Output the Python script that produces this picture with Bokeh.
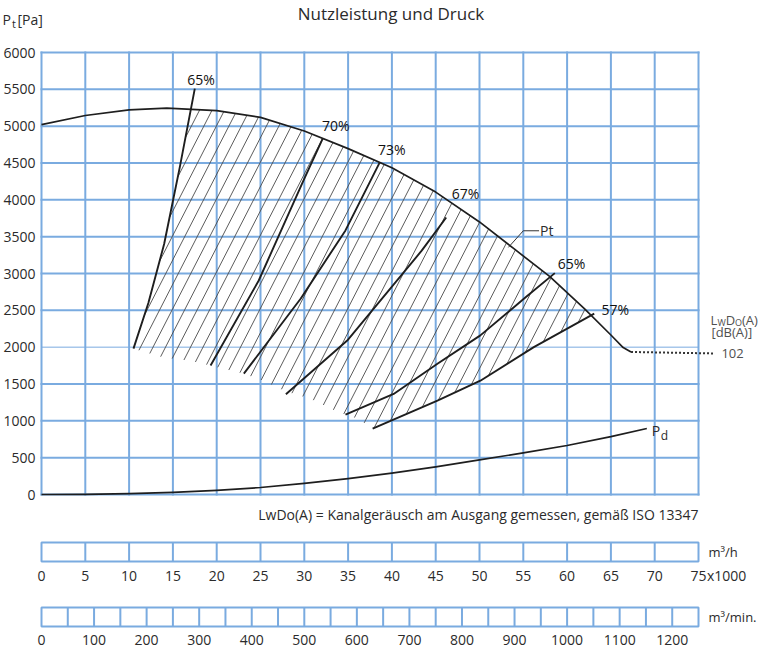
import numpy as np
from bokeh.plotting import figure
from bokeh.layouts import column
from bokeh.models import Range1d
from bokeh.core.properties import value
from bokeh.embed import file_html
from bokeh.resources import INLINE

# ---------------- data ----------------
chart_title = "Nutzleistung und Druck"
note_text = "LwDo(A) = Kanalgeräusch am Ausgang gemessen, gemäß ISO 13347"

pressure_ticks = [0, 500, 1000, 1500, 2000, 2500, 3000, 3500, 4000, 4500, 5000, 5500, 6000]
flow_grid = [0, 5, 10, 15, 20, 25, 30, 35, 40, 45, 50, 55, 60, 65, 70, 75]          # x1000 m3/h
flow_h_ticks = [0, 5, 10, 15, 20, 25, 30, 35, 40, 45, 50, 55, 60, 65, 70, 75]
flow_min_ticks = [0, 100, 200, 300, 400, 500, 600, 700, 800, 900, 1000, 1100, 1200]
flow_min_div = [0, 50, 100, 150, 200, 250, 300, 350, 400, 450, 500, 550, 600, 650,
                700, 750, 800, 850, 900, 950, 1000, 1050, 1100, 1150, 1200, 1250]

# total pressure curve Pt
pt_x = [0, 5, 10, 14.3, 20, 25, 30, 35, 40, 45, 50, 54, 58, 62, 65, 66.4, 67.3]
pt_y = [5020, 5145, 5220, 5244, 5212, 5120, 4935, 4695, 4435, 4105, 3700, 3330, 2960, 2520, 2165, 1995, 1935]
# dotted continuation to the noise value
pt_dot_x = [67.3, 76.7]
pt_dot_y = [1935, 1915]
noise_value = "102"

# dynamic pressure curve Pd
pd_x = [0, 5, 10, 15, 20, 25, 30, 35, 40, 45, 50, 55, 60, 65, 69.1]
pd_y = [0, 3, 12, 28, 55, 95, 150, 215, 290, 375, 470, 565, 665, 785, 896]

# efficiency lines
eff_labels = ["65%", "70%", "73%", "67%", "65%", "57%"]
eff_x = [[10.5, 12.2, 14.0, 15.8, 17.5],
         [19.3, 24.8, 29.9, 32.1],
         [23.1, 29.6, 34.7, 38.6],
         [27.9, 34.9, 43.4, 46.2],
         [34.7, 40.2, 45.2, 50.1, 55.3, 58.6],
         [37.8, 45.2, 50.1, 56.2, 63.1]]
eff_y = [[1980, 2600, 3400, 4450, 5510],
         [1750, 2905, 4260, 4830],
         [1640, 2660, 3585, 4505],
         [1360, 2090, 3310, 3760],
         [1085, 1365, 1775, 2160, 2680, 3005],
         [895, 1275, 1545, 2000, 2455]]
eff_label_x = [18.2, 33.6, 40.0, 48.4, 60.5, 65.5]
eff_label_y = [5640, 5010, 4685, 4085, 3135, 2505]

# lower boundary of the hatched working range
lower_x = [10.5, 13.9, 17.0, 19.3, 23.1, 25.3, 27.9, 30.7, 33.3, 34.7, 36.1, 37.8]
lower_y = [1980, 1860, 1815, 1750, 1640, 1545, 1400, 1300, 1150, 1085, 1030, 895]

# leader line of the "Pt" label
pt_leader_x = [53.3, 55.0, 56.8]
pt_leader_y = [3355, 3580, 3580]

# ---------------- styling / layout ----------------
FONT = value("Open Sans")
TXT = "#2b2b2b"
INK = "#1e1e1e"
BLUE = "#7AABE0"
W = 766
PX = 657 / 75.0          # px per 1000 m3/h
PY = 442 / 6000.0        # px per Pa
PXM = 657 / 1250.0       # px per m3/min
LEFT = 41                # canvas-left to x=0 in px
H1, TOP, ZERO = 528, 52, 494
H2, H3, BAR = 64, 57, 19


def crossing(ax, ay, bx, by):
    lo, hi = max(min(ax), min(bx)), min(max(ax), max(bx))
    xs = np.linspace(lo, hi, 2000)
    d = np.interp(xs, ax, ay) - np.interp(xs, bx, by)
    i = np.where(np.sign(d[:-1]) != np.sign(d[1:]))[0][0]
    xc = xs[i]
    return xc, float(np.interp(xc, bx, by))


# hatched region polygon built from the curves
x1c, y1c = crossing(eff_x[0], eff_y[0], pt_x, pt_y)
x2c, y2c = crossing(eff_x[5], eff_y[5], pt_x, pt_y)
poly_x, poly_y = [], []
for xx, yy in zip(eff_x[0], eff_y[0]):
    if xx < x1c:
        poly_x.append(xx); poly_y.append(yy)
poly_x.append(x1c); poly_y.append(y1c)
for xx, yy in zip(pt_x, pt_y):
    if x1c < xx < x2c:
        poly_x.append(xx); poly_y.append(yy)
poly_x.append(x2c); poly_y.append(y2c)
for xx, yy in zip(eff_x[5][::-1], eff_y[5][::-1]):
    if xx < x2c:
        poly_x.append(xx); poly_y.append(yy)
for xx, yy in zip(lower_x[-2:0:-1], lower_y[-2:0:-1]):
    poly_x.append(xx); poly_y.append(yy)

# hatch lines (pixel slope ~63 deg), clipped to the polygon
pu = np.array(poly_x) * PX
pv = np.array(poly_y) * PY
K = 1.95
DC = K * 12.5
cv = pv - K * pu
hx0, hy0, hx1, hy1 = [], [], [], []
n = len(pu)
for c in np.arange(np.floor(cv.min() / DC) * DC + 3.0, cv.max(), DC):
    us = []
    for i in range(n):
        j = (i + 1) % n
        f1, f2 = cv[i] - c, cv[j] - c
        if (f1 > 0) != (f2 > 0):
            t = f1 / (f1 - f2)
            us.append(pu[i] + t * (pu[j] - pu[i]))
    us.sort()
    for a, b in zip(us[0::2], us[1::2]):
        hx0.append(a / PX); hy0.append((K * a + c) / PY)
        hx1.append(b / PX); hy1.append((K * b + c) / PY)


def base_fig(h, xr, yr):
    f = figure(width=W, height=h, x_range=xr, y_range=yr,
               x_axis_location=None, y_axis_location=None,
               toolbar_location=None, output_backend="svg",
               min_border=0, outline_line_color=None)
    f.grid.visible = False
    f.background_fill_color = "white"
    f.border_fill_color = "white"
    return f


# ---------------- main chart ----------------
p = base_fig(H1, Range1d(-LEFT / PX, (W - LEFT) / PX),
             Range1d(-(H1 - ZERO) / PY, 6000 + TOP / PY))

hwidth = [1.0 if v == 2000 else 2.0 for v in pressure_ticks]
p.segment(x0=flow_grid, y0=pressure_ticks[0], x1=flow_grid, y1=pressure_ticks[-1],
          line_color=BLUE, line_width=2, line_cap="square")
p.segment(x0=flow_grid[0], y0=pressure_ticks, x1=flow_grid[-1], y1=pressure_ticks,
          line_color=BLUE, line_width=hwidth, line_cap="square")

p.segment(x0=hx0, y0=hy0, x1=hx1, y1=hy1, line_color="#4a4a4a", line_width=0.9)

p.line(pt_x, pt_y, line_color=INK, line_width=1.7, line_join="round")
p.line(pt_dot_x, pt_dot_y, line_color="#333333", line_width=2, line_dash="2 2")
p.line(pd_x, pd_y, line_color=INK, line_width=1.7, line_join="round")
p.multi_line(eff_x, eff_y, line_color=INK, line_width=1.9, line_join="round")
p.line(pt_leader_x, pt_leader_y, line_color="#333333", line_width=1)

txt = dict(text_font=FONT, text_color=TXT)
p.text(x=0, y=pressure_ticks, text=[str(v) for v in pressure_ticks],
       text_font_size="14px", text_align="right", text_baseline="middle",
       x_offset=-6, **txt)
p.text(x=eff_label_x, y=eff_label_y, text=eff_labels, text_font_size="14px",
       text_align="center", text_baseline="middle",
       text_font=FONT, text_color="#111111")
p.text(x=[(flow_grid[0] + flow_grid[-1]) / 2], y=[pressure_ticks[-1]], text=[chart_title],
       text_font_size="17px", text_align="center", text_baseline="middle",
       x_offset=21, y_offset=-39, **txt)
# Pt[Pa] axis title
p.text(x=[0], y=[pressure_ticks[-1]], text=["P"], text_font_size="14px",
       text_align="left", text_baseline="middle", x_offset=-39, y_offset=-33.5, **txt)
p.text(x=[0], y=[pressure_ticks[-1]], text=["t"], text_font_size="11px",
       text_align="left", text_baseline="middle", x_offset=-29.5, y_offset=-29.5, **txt)
p.text(x=[0], y=[pressure_ticks[-1]], text=["[Pa]"], text_font_size="14px",
       text_align="left", text_baseline="middle", x_offset=-24, y_offset=-33.5, **txt)
# curve labels
p.text(x=[pt_leader_x[-1]], y=[pt_leader_y[-1]], text=["Pt"], text_font_size="14px",
       text_align="left", text_baseline="middle", x_offset=1, **txt)
p.text(x=[pd_x[-1]], y=[pd_y[-1]], text=["P"], text_font_size="14px",
       text_align="left", text_baseline="middle", x_offset=5, y_offset=2, **txt)
p.text(x=[pd_x[-1]], y=[pd_y[-1]], text=["d"], text_font_size="12px",
       text_align="left", text_baseline="middle", x_offset=14, y_offset=7, **txt)
# note
p.text(x=[flow_grid[-1]], y=[pressure_ticks[0]], text=[note_text], text_font_size="14px",
       text_align="right", text_baseline="middle", y_offset=20, **txt)
# noise level labels
GR = "#505050"
ex, ey = [pt_dot_x[-1]], [pt_dot_y[-1]]
p.text(x=ex, y=ey, text=[noise_value], text_font_size="13px", text_align="left",
       text_baseline="middle", x_offset=8, text_font=FONT, text_color=GR)
p.text(x=ex, y=ey, text=["[dB(A)]"], text_font_size="13px", text_align="left",
       text_baseline="middle", x_offset=-2, y_offset=-21, text_font=FONT, text_color=GR)
for piece, size, dx, dy in [("L", "13px", -3, -33), ("W", "9px", 4.0, -31), ("D", "13px", 12.3, -33),
                            ("O", "9px", 21.7, -31), ("(A)", "13px", 28.6, -33)]:
    p.text(x=ex, y=ey, text=[piece], text_font_size=size, text_align="left",
           text_baseline="alphabetic", x_offset=dx, y_offset=dy,
           text_font=FONT, text_color=GR)

# ---------------- m3/h scale ----------------
p2 = base_fig(H2, Range1d(-LEFT / PX, (W - LEFT) / PX),
              Range1d(-(H2 - 33) / BAR, 33 / BAR))
p2.quad(left=[flow_h_ticks[0]], right=[flow_h_ticks[-1]], bottom=[0], top=[1],
        fill_color=None, line_color=BLUE, line_width=2)
p2.segment(x0=flow_h_ticks[1:-1], y0=0, x1=flow_h_ticks[1:-1], y1=1,
           line_color=BLUE, line_width=2)
p2.text(x=flow_h_ticks, y=0, text=[str(v) for v in flow_h_ticks], text_font_size="14px",
        text_align="center", text_baseline="middle", y_offset=14, **txt)
p2.text(x=[flow_h_ticks[-1]], y=[0], text=["x1000"], text_font_size="14px",
        text_align="left", text_baseline="middle", x_offset=8.5, y_offset=14, **txt)
p2.text(x=[flow_h_ticks[-1]], y=[0.5], text=["m³/h"], text_font_size="13px",
        text_align="left", text_baseline="middle", x_offset=10, **txt)

# ---------------- m3/min scale ----------------
p3 = base_fig(H3, Range1d(-LEFT / PXM, (W - LEFT) / PXM),
              Range1d(-(H3 - 34) / BAR, 34 / BAR))
p3.quad(left=[flow_min_div[0]], right=[flow_min_div[-1]], bottom=[0], top=[1],
        fill_color=None, line_color=BLUE, line_width=2)
p3.segment(x0=flow_min_div[1:-1], y0=0, x1=flow_min_div[1:-1], y1=1,
           line_color=BLUE, line_width=2)
p3.text(x=flow_min_ticks, y=0, text=[str(v) for v in flow_min_ticks], text_font_size="14px",
        text_align="center", text_baseline="middle", y_offset=13, **txt)
p3.text(x=[flow_min_div[-1]], y=[0.5], text=["m³/min."], text_font_size="13px",
        text_align="left", text_baseline="middle", x_offset=10, **txt)

layout = column(p, p2, p3, spacing=0)
open("out.html", "w").write(file_html(layout, INLINE))
